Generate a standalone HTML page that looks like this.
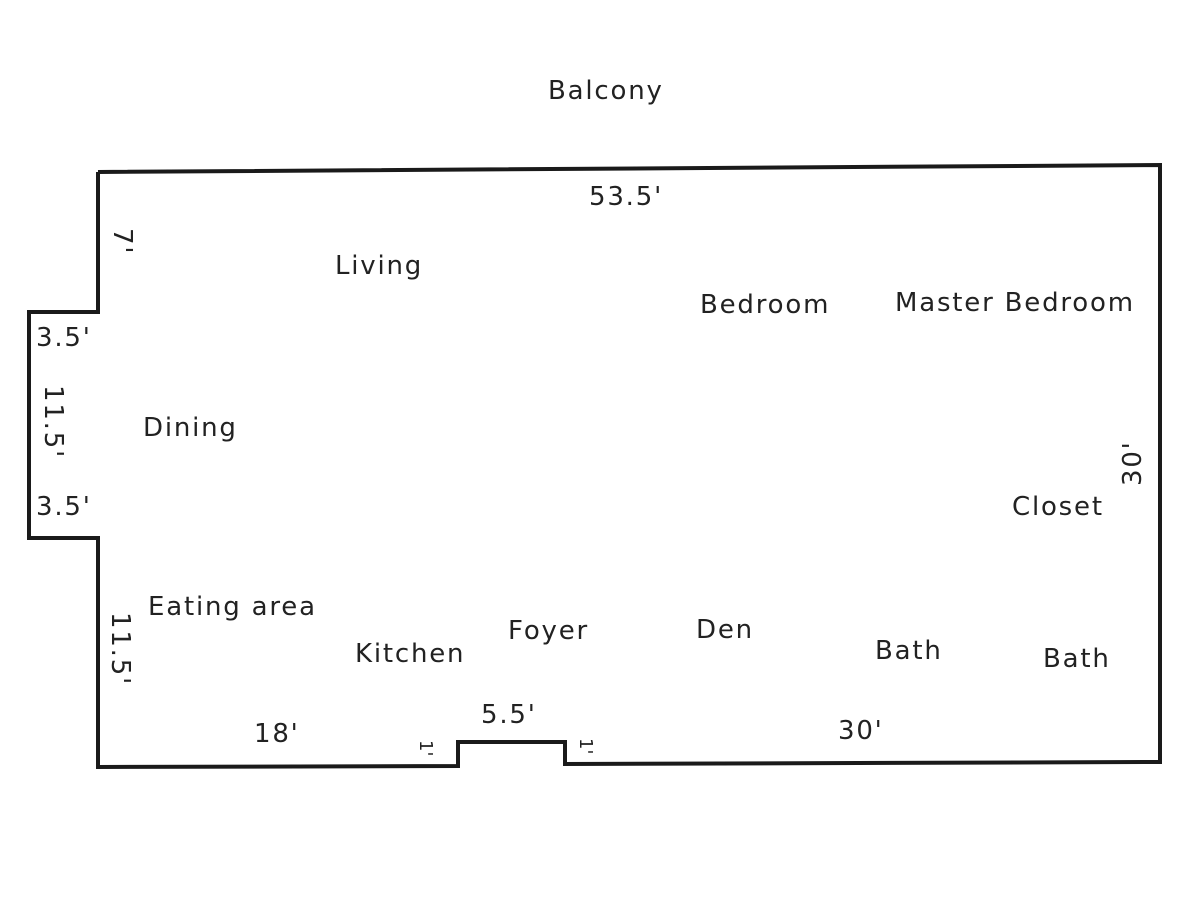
<!DOCTYPE html>
<html><head><style>
html,body{margin:0;padding:0;background:#fff;}
svg{display:block;}
text{font-family:"DejaVu Sans","Liberation Sans",sans-serif;font-size:26px;fill:#222;letter-spacing:1.8px;}
</style></head><body>
<svg width="1200" height="900" viewBox="0 0 1200 900">
<polyline fill="none" stroke="#1a1a1a" stroke-width="4" stroke-linejoin="miter"
points="98,172 1160,165 1160,762 565,764 565,742 458,742 458,766 98,767 98,538 29,538 29,312 98,312 98,172"/>
<text x="548" y="99">Balcony</text>
<text x="589" y="205">53.5'</text>
<text x="335" y="274">Living</text>
<text x="700" y="313">Bedroom</text>
<text x="895" y="311">Master Bedroom</text>
<text x="36" y="346">3.5'</text>
<text x="143" y="436">Dining</text>
<text x="36" y="515">3.5'</text>
<text x="1012" y="515">Closet</text>
<text x="148" y="615">Eating area</text>
<text x="508" y="639">Foyer</text>
<text x="696" y="638">Den</text>
<text x="355" y="662">Kitchen</text>
<text x="875" y="659">Bath</text>
<text x="1043" y="667">Bath</text>
<text x="481" y="723">5.5'</text>
<text x="254" y="742">18'</text>
<text x="838" y="739">30'</text>
<text transform="translate(114,228) rotate(90)">7'</text>
<text transform="translate(45,385) rotate(90)">11.5'</text>
<text transform="translate(112,612) rotate(90)">11.5'</text>
<text transform="translate(1141,486) rotate(-90)">30'</text>
<text style="font-size:18px;letter-spacing:0" transform="translate(420,740) rotate(90)">1'</text>
<text style="font-size:18px;letter-spacing:0" transform="translate(580,738) rotate(90)">1'</text>
</svg>
</body></html>
